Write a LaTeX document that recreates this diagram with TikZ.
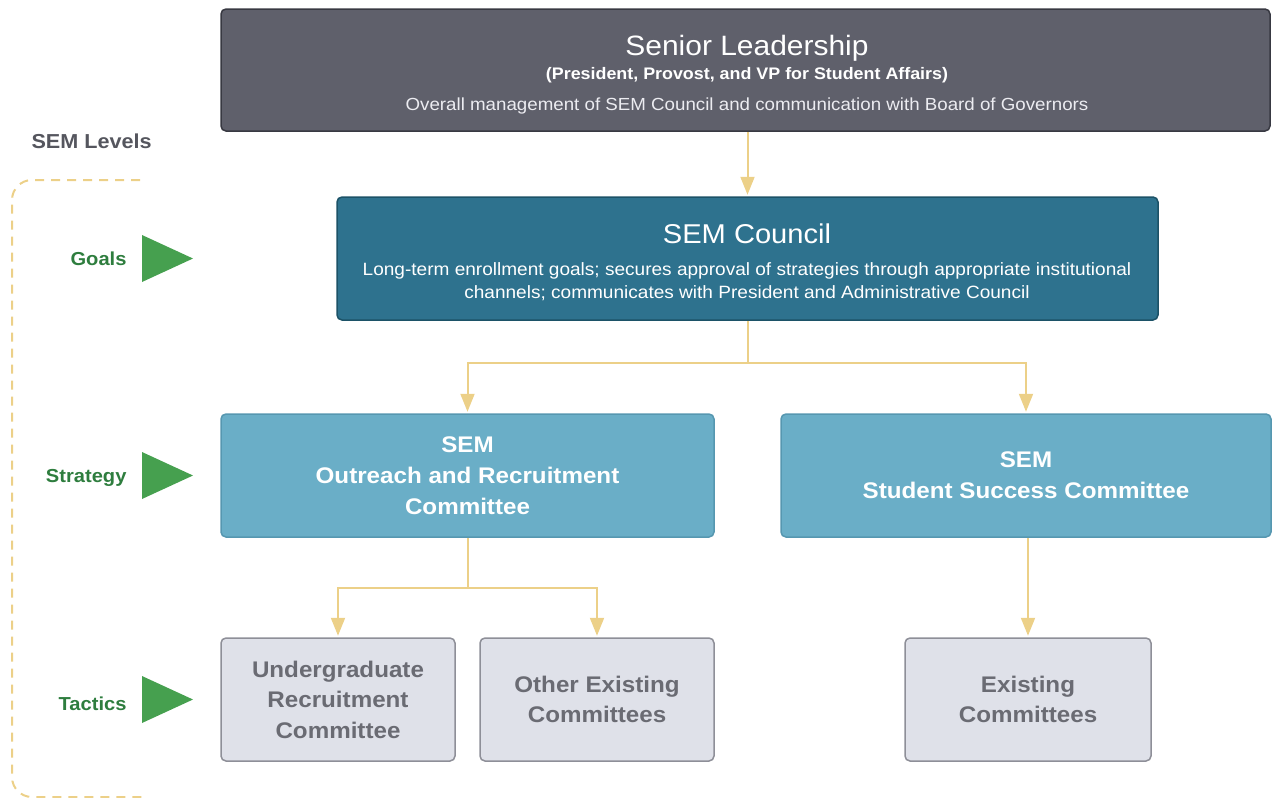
\documentclass[tikz,border=0pt]{standalone}
\usepackage{fontspec}
\setmainfont[FakeStretch=1.07]{Liberation Sans}
\usetikzlibrary{arrows.meta}
\definecolor{srfill}{HTML}{5F606B}
\definecolor{srline}{HTML}{383942}
\definecolor{cofill}{HTML}{2E728E}
\definecolor{coline}{HTML}{1C5267}
\definecolor{stfill}{HTML}{6AAEC7}
\definecolor{stline}{HTML}{5697B0}
\definecolor{tafill}{HTML}{DFE1E9}
\definecolor{taline}{HTML}{8E8F98}
\definecolor{tatext}{HTML}{6A6B73}
\definecolor{connc}{HTML}{ECD088}
\definecolor{lvtext}{HTML}{55565E}
\definecolor{grtext}{HTML}{2E7D3E}
\definecolor{grtri}{HTML}{46A04F}
\definecolor{soft}{HTML}{ECECF1}
\begin{document}
\begin{tikzpicture}[x=1pt,y=-1pt,
  box/.style={rounded corners=5pt, line width=1.5pt, align=center, inner sep=0pt},
  seniorbox/.style={box, fill=srfill, draw=srline, minimum width=1049pt, minimum height=122pt},
  councilbox/.style={box, fill=cofill, draw=coline, minimum width=821pt, minimum height=123pt},
  strategybox/.style={box, fill=stfill, draw=stline, text=white, minimum height=123pt,
    font=\fontsize{22.6}{31}\selectfont\bfseries},
  tacticbox/.style={box, fill=tafill, draw=taline, text=tatext, minimum height=123pt,
    font=\fontsize{22.6}{30.5}\selectfont\bfseries},
  line/.style={draw=connc, line width=2pt},
  conn/.style={line, -{Triangle[width=14pt,length=18pt]}, shorten >=1.5pt},
  level/.style={anchor=base east, text=grtext, font=\fontsize{18.8}{20}\selectfont\bfseries},
  marker/.style={fill=grtri},
  ttl/.style={anchor=base, text=white},
]
\useasboundingbox (0,0) rectangle (1272,798);

% --- boxes ---
\node[seniorbox] (senior) at (745.5,70) {};
\node[ttl, font=\fontsize{28}{30}\selectfont] (seniorT) at (747,55) {Senior Leadership};
\node[ttl, font=\fontsize{16.7}{18}\selectfont\bfseries] (seniorS) at (747,79) {(President, Provost, and VP for Student Affairs)};
\node[ttl, text=soft, font=\fontsize{17.5}{20}\selectfont] (seniorD) at (747,110) {Overall management of SEM Council and communication with Board of Governors};

\node[councilbox] (council) at (747.5,258.5) {};
\node[ttl, font=\fontsize{27.2}{30}\selectfont] (councilT) at (747,243) {SEM Council};
\node[ttl, font=\fontsize{17.8}{20}\selectfont] (councilL1) at (747,275) {Long-term enrollment goals; secures approval of strategies through appropriate institutional};
\node[ttl, font=\fontsize{17.8}{20}\selectfont] (councilL2) at (747,298) {channels; communicates with President and Administrative Council};

\node[strategybox, minimum width=493pt] (outreach) at (467.5,475.5) {SEM\\Outreach and Recruitment\\Committee};
\node[strategybox, minimum width=490pt] (success) at (1026,475.5) {SEM\\Student Success Committee};

\node[tacticbox, minimum width=234pt] (ugrad) at (338,699.5) {Undergraduate\\Recruitment\\Committee};
\node[tacticbox, minimum width=234pt] (other) at (597,699.5) {Other Existing\\Committees};
\node[tacticbox, minimum width=246pt] (existing) at (1028,699.5) {Existing\\Committees};

% --- connectors ---
\path (council.south) ++(0,42) coordinate (j1);
\path (outreach.south) ++(0,50) coordinate (j2);
\draw[conn] (senior.south -| council.north) -- (council.north);
\draw[line] (council.south) -- (j1);
\draw[conn] (j1) -| (outreach.north);
\draw[conn] (j1) -| (success.north);
\draw[line] (outreach.south) -- (j2);
\draw[conn] (j2) -| (ugrad.north);
\draw[conn] (j2) -| (other.north);
\draw[conn] (success.south -| existing.north) -- (existing.north);

% --- level legend ---
\node[anchor=base west, text=lvtext, font=\fontsize{20.2}{22}\selectfont\bfseries] (levels) at (28,148) {SEM Levels};
\draw[draw=connc, line width=2pt, dash pattern=on 9pt off 7pt, rounded corners=20pt]
  (140,180) -- (12,180) -- (12,797) -- (146,797);

\node[level] (goals) at (130,265) {Goals};
\fill[marker] (142,235) -- (193,258.5) -- (142,282) -- cycle;
\node[level] (strategy) at (130,482) {Strategy};
\fill[marker] (142,452) -- (193,475.5) -- (142,499) -- cycle;
\node[level] (tactics) at (130,710) {Tactics};
\fill[marker] (142,676) -- (193,699.5) -- (142,723) -- cycle;
\end{tikzpicture}
\end{document}
